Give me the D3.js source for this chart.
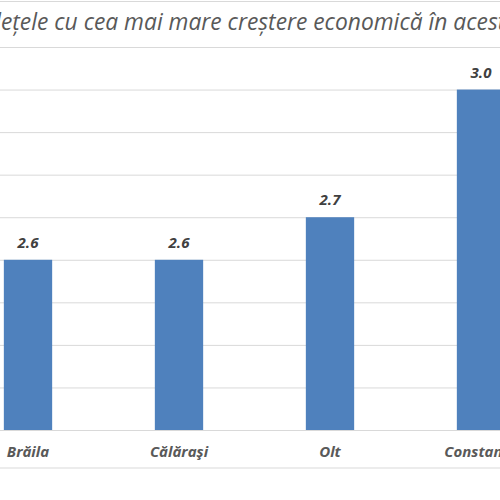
<!DOCTYPE html>
<html><head><meta charset="utf-8">
<script src="https://cdn.jsdelivr.net/npm/d3@7"></script>
<style>html,body{margin:0;padding:0;background:#fff;overflow:hidden}</style>
</head><body>
<svg id="c" width="500" height="500"></svg>
<script>
const categories = ["Brăila", "Călăraşi", "Olt", "Constanța"];
const values = [2.6, 2.6, 2.7, 3.0];
const valueLabels = ["2.6", "2.6", "2.7", "3.0"];
const gridTicks = [2.2, 2.3, 2.4, 2.5, 2.6, 2.7, 2.8, 2.9, 3.0, 3.1];
const titleText = "Județele cu cea mai mare creștere economică în acest an";

const svg = d3.select("#c");
const font = "'Open Sans', 'Noto Sans', sans-serif";

const y = d3.scaleLinear().domain([2.2, 3.1]).range([430, 47]);
const x = d3.scaleBand().domain(categories).range([-47.5, 556.5])
  .paddingInner(0.68).paddingOuter(0.34);

// frame lines
svg.append("line").attr("x1",0).attr("x2",500).attr("y1",1.5).attr("y2",1.5)
  .attr("stroke","#d9d9d9").attr("stroke-width",1);
svg.append("line").attr("x1",0).attr("x2",500).attr("y1",468).attr("y2",468)
  .attr("stroke","#d9d9d9").attr("stroke-width",1);

// gridlines via axis
const grid = svg.append("g")
  .call(d3.axisLeft(y).tickValues(gridTicks).tickSize(-600).tickFormat(""));
grid.select(".domain").remove();
grid.selectAll(".tick line").attr("stroke","#d9d9d9").attr("stroke-width",1);

// bars
svg.selectAll("rect.bar").data(categories).enter().append("rect")
  .attr("class","bar")
  .attr("x", d => x(d))
  .attr("width", x.bandwidth())
  .attr("y", (d,i) => y(values[i]))
  .attr("height", (d,i) => y(2.2) - y(values[i]))
  .attr("fill","#4f81bd");

// value labels
svg.selectAll("text.val").data(categories).enter().append("text")
  .attr("class","val")
  .attr("x", d => x(d) + x.bandwidth()/2)
  .attr("y", (d,i) => y(values[i]) - 12)
  .attr("text-anchor","middle")
  .attr("font-family", font).attr("font-weight","bold").attr("font-style","italic")
  .attr("font-size", 15).attr("fill","#404040")
  .text((d,i) => valueLabels[i]);

// category labels
const xa = svg.append("g").attr("transform","translate(0,430)")
  .call(d3.axisBottom(x).tickSize(0).tickPadding(16));
xa.select(".domain").attr("stroke","#d9d9d9");
xa.selectAll("text").attr("font-family", font).attr("font-weight","bold")
  .attr("font-style","italic").attr("font-size",15).attr("fill","#595959");

// title
const tSize = 22.8;
const t = svg.append("text").attr("y", 30)
  .attr("font-family", font).attr("font-style","italic")
  .attr("font-size", tSize).attr("fill","#595959");
const tmp = svg.append("text").attr("font-family", font).attr("font-style","italic")
  .attr("font-size", tSize).text("Jud");
const off = tmp.node().getComputedTextLength();
tmp.remove();
t.attr("x", -off + 1).text(titleText);
</script>
</body></html>
